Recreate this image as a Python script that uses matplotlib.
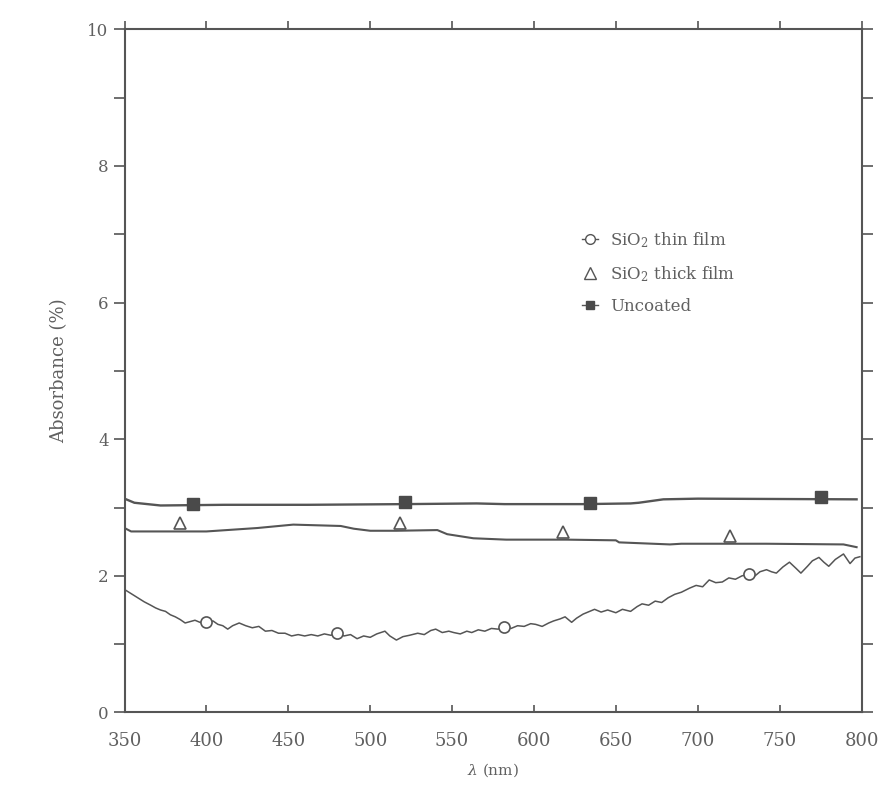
import matplotlib
matplotlib.use("Agg")
import matplotlib.pyplot as plt
from matplotlib.lines import Line2D
from matplotlib.ticker import MultipleLocator

# SiO2 thin film trace (nm, absorbance %)
thin_nm = [350, 354, 358, 362, 366, 369, 372, 375, 378, 381, 384, 387, 390, 393, 396,
           400, 404, 407, 410, 413, 416, 420, 424, 428, 432, 436, 440, 444, 448, 452,
           456, 460, 464, 468, 472, 476, 480, 484, 488, 492, 496, 500, 504, 509, 512,
           516, 520, 524, 529, 533, 537, 540, 544, 548, 551, 555, 559, 562, 566, 570,
           574, 578, 582, 586, 590, 594, 598, 601, 605, 609, 612, 616, 619, 623, 626,
           630, 634, 637, 641, 645, 650, 654, 659, 663, 666, 670, 674, 678, 682, 686,
           690, 695, 699, 703, 707, 711, 715, 719, 723, 727, 731, 735, 738, 742, 745,
           748, 752, 756, 760, 763, 767, 770, 774, 777, 780, 784, 789, 793, 796, 799]
thin_val = [1.80, 1.74, 1.68, 1.62, 1.57, 1.53, 1.50, 1.48, 1.43, 1.40, 1.36, 1.31, 1.33, 1.35, 1.32,
            1.32, 1.34, 1.29, 1.27, 1.22, 1.27, 1.31, 1.27, 1.24, 1.26, 1.19, 1.20, 1.16, 1.16, 1.12,
            1.14, 1.12, 1.14, 1.12, 1.15, 1.13, 1.16, 1.12, 1.14, 1.08, 1.12, 1.10, 1.15, 1.19, 1.12,
            1.06, 1.11, 1.13, 1.16, 1.14, 1.20, 1.22, 1.17, 1.19, 1.17, 1.15, 1.19, 1.17, 1.21, 1.19,
            1.23, 1.22, 1.25, 1.23, 1.27, 1.26, 1.30, 1.29, 1.26, 1.31, 1.34, 1.37, 1.40, 1.32, 1.38,
            1.44, 1.48, 1.51, 1.47, 1.50, 1.46, 1.51, 1.48, 1.55, 1.59, 1.57, 1.63, 1.61, 1.68, 1.73,
            1.76, 1.82, 1.86, 1.84, 1.94, 1.90, 1.91, 1.97, 1.95, 2.00, 2.02, 2.00, 2.06, 2.09, 2.06,
            2.04, 2.13, 2.20, 2.11, 2.04, 2.14, 2.22, 2.27, 2.20, 2.14, 2.24, 2.32, 2.18, 2.26, 2.28]
thin_mk_nm = [400, 480, 582, 731]
thin_mk_val = [1.32, 1.16, 1.25, 2.02]

# SiO2 thick film trace
thick_nm = [350, 354, 370, 400, 431, 453, 482, 490, 500, 516, 541, 547, 563, 583, 620,
            650, 652, 683, 690, 742, 789, 797]
thick_val = [2.70, 2.65, 2.65, 2.65, 2.70, 2.75, 2.73, 2.69, 2.66, 2.66, 2.67, 2.61, 2.55, 2.53, 2.53,
             2.52, 2.49, 2.46, 2.47, 2.47, 2.46, 2.42]
thick_mk_nm = [384, 518, 618, 720]
thick_mk_val = [2.77, 2.77, 2.64, 2.58]

# uncoated trace
unc_nm = [350, 356, 372, 411, 462, 521, 565, 582, 630, 659, 664, 679, 700, 797]
unc_val = [3.13, 3.07, 3.03, 3.04, 3.04, 3.05, 3.06, 3.05, 3.05, 3.06, 3.07, 3.12, 3.13, 3.12]
unc_mk_nm = [392, 521, 634, 775]
unc_mk_val = [3.05, 3.08, 3.07, 3.15]

legend_labels = ["SiO$_2$ thin film", "SiO$_2$ thick film", "Uncoated"]

ink = "#555555"
txt = "#606060"
plt.rcParams["font.family"] = ["DejaVu Serif"]
plt.rcParams["mathtext.fontset"] = "dejavuserif"

fig = plt.figure(figsize=(8.96, 7.87), dpi=100)
ax = fig.add_axes([0.139, 0.0947, 0.8225, 0.868])

ax.plot(thin_nm, thin_val, color=ink, lw=1.1)
ax.plot(thick_nm, thick_val, color=ink, lw=1.5)
ax.plot(unc_nm, unc_val, color=ink, lw=1.7)
ax.plot(thin_mk_nm, thin_mk_val, "o", ms=8, mfc="white", mec=ink, mew=1.2)
ax.plot(thick_mk_nm, thick_mk_val, "^", ms=9, mfc="white", mec=ink, mew=1.2)
ax.plot(unc_mk_nm, unc_mk_val, "s", ms=8, mfc="#4a4a4a", mec="#4a4a4a")

ax.set_xlim(350, 800)
ax.set_ylim(0, 10)
ax.xaxis.set_major_locator(MultipleLocator(50))
ax.yaxis.set_major_locator(MultipleLocator(2))
ax.yaxis.set_minor_locator(MultipleLocator(1))

for s in ax.spines.values():
    s.set_color(ink)
    s.set_linewidth(1.5)

ax.tick_params(axis="x", which="both", direction="in", length=5, width=1.2, color=ink,
               labelsize=13, labelcolor=txt, pad=14, top=False)
ax.tick_params(axis="y", which="both", direction="out", length=8, width=1.2, color=ink,
               labelsize=12, labelcolor=txt, right=True)

# top ticks point outwards
top = ax.secondary_xaxis("top")
top.xaxis.set_major_locator(MultipleLocator(50))
top.tick_params(direction="out", length=6, width=1.2, color=ink, labeltop=False)
top.spines["top"].set_visible(False)

ax.set_xlabel(r"$\lambda$ (nm)", fontsize=11, color=txt, labelpad=8)
ax.set_ylabel("Absorbance (%)", fontsize=13, color=txt, labelpad=14)

handles = [
    Line2D([], [], color=ink, lw=1, marker="o", ms=7, mfc="white", mec=ink),
    Line2D([], [], color="none", marker="^", ms=8, mfc="white", mec=ink),
    Line2D([], [], color=ink, lw=1, marker="s", ms=6, mfc="#4a4a4a", mec="#4a4a4a"),
]
leg = ax.legend(handles, legend_labels, loc="upper left", bbox_to_anchor=(0.60, 0.728),
                frameon=False, fontsize=12, handlelength=1.0, handletextpad=0.7,
                labelspacing=0.85)
for t in leg.get_texts():
    t.set_color(txt)

fig.savefig("out.png", dpi=100, facecolor="white")
